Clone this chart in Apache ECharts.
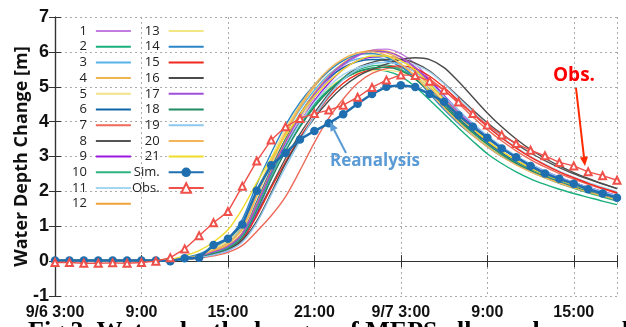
<!DOCTYPE html>
<html>
<head>
<meta charset="utf-8">
<script src="https://cdn.jsdelivr.net/npm/echarts@6/dist/echarts.min.js"></script>
<style>
  html, body { margin: 0; padding: 0; background: #fff; }
  #chart { width: 626px; height: 327px; }
</style>
</head>
<body>
<div id="chart"></div>
<script>
// x axis: hours from 9/6 3:00 (hourly values, index = hour)
const tickHours = [0, 6, 12, 18, 24, 30, 36];
const tickLabels = ["9/6 3:00", "9:00", "15:00", "21:00", "9/7 3:00", "9:00", "15:00"];

// ensemble members 1..21 (water depth change, m)
const m1  = [0.02,0.02,0.02,0.02,0.02,0.02,0.02,0.02,0.03,0.06,0.12,0.24,0.40,0.72,1.50,2.45,3.30,4.05,4.70,5.20,5.60,5.88,6.05,6.08,5.95,5.65,5.22,4.75,4.30,3.90,3.55,3.24,2.98,2.76,2.57,2.40,2.25,2.12,1.99,1.87];
const m2  = [0.02,0.02,0.02,0.02,0.02,0.02,0.02,0.02,0.03,0.06,0.12,0.24,0.40,0.75,1.60,2.50,3.30,3.98,4.50,4.92,5.22,5.42,5.50,5.45,5.30,5.00,4.62,4.22,3.82,3.44,3.08,2.80,2.56,2.36,2.20,2.06,1.94,1.83,1.72,1.62];
const m3  = [0.02,0.02,0.02,0.02,0.02,0.02,0.02,0.02,0.03,0.08,0.15,0.32,0.55,1.00,1.95,2.85,3.65,4.35,4.90,5.35,5.65,5.80,5.85,5.78,5.58,5.25,4.85,4.42,4.02,3.66,3.35,3.07,2.83,2.63,2.46,2.31,2.17,2.04,1.92,1.80];
const m4  = [0.02,0.02,0.02,0.02,0.02,0.02,0.02,0.02,0.03,0.08,0.15,0.30,0.50,0.90,1.85,2.80,3.65,4.40,5.00,5.45,5.78,5.97,6.03,5.97,5.78,5.45,5.00,4.55,4.12,3.75,3.42,3.13,2.88,2.67,2.49,2.33,2.19,2.06,1.94,1.82];
const m5  = [0.02,0.02,0.02,0.02,0.02,0.02,0.02,0.02,0.04,0.10,0.20,0.38,0.62,1.05,1.90,2.75,3.50,4.10,4.60,4.98,5.25,5.40,5.46,5.47,5.42,5.28,5.02,4.68,4.30,3.93,3.58,3.27,3.00,2.77,2.57,2.40,2.24,2.10,1.97,1.85];
const m6  = [0.02,0.02,0.02,0.02,0.02,0.02,0.02,0.02,0.03,0.07,0.13,0.26,0.43,0.80,1.70,2.65,3.50,4.22,4.80,5.25,5.55,5.72,5.78,5.74,5.58,5.30,4.92,4.50,4.10,3.73,3.40,3.11,2.86,2.65,2.47,2.31,2.17,2.04,1.92,1.80];
const m7  = [0.02,0.02,0.02,0.02,0.02,0.02,0.02,0.02,0.02,0.04,0.08,0.15,0.25,0.45,0.85,1.30,1.85,2.60,3.40,4.10,4.65,5.10,5.38,5.52,5.55,5.45,5.22,4.90,4.52,4.13,3.77,3.45,3.16,2.91,2.70,2.51,2.35,2.20,2.07,1.94];
const m8  = [0.02,0.02,0.02,0.02,0.02,0.02,0.02,0.02,0.02,0.05,0.10,0.20,0.35,0.65,1.35,2.15,2.95,3.65,4.25,4.80,5.25,5.55,5.70,5.78,5.78,5.68,5.45,5.10,4.72,4.33,3.97,3.65,3.36,3.10,2.88,2.68,2.50,2.35,2.21,2.08];
const m9  = [0.02,0.02,0.02,0.02,0.02,0.02,0.02,0.02,0.02,0.05,0.10,0.20,0.30,0.60,1.40,2.35,3.20,3.95,4.60,5.10,5.50,5.75,5.85,5.87,5.78,5.55,5.18,4.75,4.32,3.93,3.58,3.27,3.00,2.78,2.58,2.41,2.26,2.12,2.00,1.88];
const m10 = [0.02,0.02,0.02,0.02,0.02,0.02,0.02,0.02,0.03,0.06,0.12,0.24,0.38,0.70,1.50,2.40,3.20,3.90,4.45,4.90,5.25,5.48,5.60,5.62,5.50,5.25,4.88,4.47,4.06,3.68,3.34,3.04,2.78,2.57,2.39,2.23,2.09,1.96,1.84,1.72];
const m11 = [0.02,0.02,0.02,0.02,0.02,0.02,0.02,0.02,0.03,0.06,0.11,0.22,0.36,0.68,1.45,2.35,3.20,3.95,4.55,5.02,5.35,5.55,5.65,5.70,5.70,5.62,5.42,5.08,4.68,4.28,3.90,3.56,3.26,3.00,2.78,2.58,2.41,2.26,2.12,1.99];
const m12 = [0.02,0.02,0.02,0.02,0.02,0.02,0.02,0.02,0.03,0.07,0.14,0.27,0.45,0.80,1.65,2.60,3.45,4.20,4.82,5.30,5.68,5.92,6.04,6.02,5.85,5.55,5.12,4.65,4.20,3.80,3.45,3.15,2.90,2.68,2.50,2.34,2.20,2.07,1.95,1.83];
const m13 = [0.02,0.02,0.02,0.02,0.02,0.02,0.02,0.02,0.03,0.09,0.18,0.35,0.58,1.05,2.00,2.95,3.80,4.50,5.05,5.48,5.78,5.93,5.95,5.86,5.65,5.32,4.90,4.45,4.03,3.66,3.33,3.05,2.80,2.60,2.42,2.27,2.13,2.00,1.89,1.78];
const m14 = [0.02,0.02,0.02,0.02,0.02,0.02,0.02,0.02,0.04,0.10,0.20,0.40,0.65,1.20,2.20,3.10,3.90,4.55,5.05,5.45,5.75,5.92,5.95,5.85,5.60,5.25,4.80,4.35,3.95,3.60,3.28,3.00,2.78,2.58,2.42,2.28,2.14,2.00,1.88,1.76];
const m15 = [0.02,0.02,0.02,0.02,0.02,0.02,0.02,0.02,0.02,0.05,0.10,0.20,0.33,0.62,1.30,2.10,2.85,3.55,4.15,4.70,5.10,5.36,5.50,5.57,5.60,5.52,5.30,4.98,4.60,4.22,3.86,3.53,3.24,2.98,2.76,2.56,2.39,2.23,2.09,1.96];
const m16 = [0.02,0.02,0.02,0.02,0.02,0.02,0.02,0.02,0.02,0.05,0.10,0.20,0.33,0.60,1.15,1.95,2.80,3.50,4.10,4.60,5.00,5.30,5.50,5.65,5.78,5.83,5.78,5.55,5.15,4.70,4.25,3.85,3.50,3.20,2.95,2.73,2.54,2.37,2.22,2.08];
const m17 = [0.02,0.02,0.02,0.02,0.02,0.02,0.02,0.02,0.03,0.07,0.13,0.26,0.42,0.78,1.60,2.55,3.40,4.15,4.78,5.28,5.65,5.90,6.02,6.00,5.85,5.55,5.12,4.68,4.25,3.87,3.53,3.23,2.97,2.75,2.56,2.39,2.24,2.10,1.98,1.86];
const m18 = [0.02,0.02,0.02,0.02,0.02,0.02,0.02,0.02,0.02,0.05,0.10,0.22,0.36,0.68,1.45,2.35,3.15,3.85,4.42,4.88,5.22,5.43,5.54,5.56,5.46,5.22,4.86,4.45,4.05,3.68,3.35,3.06,2.81,2.60,2.42,2.26,2.12,1.99,1.87,1.76];
const m19 = [0.02,0.02,0.02,0.02,0.02,0.02,0.02,0.02,0.02,0.05,0.10,0.18,0.30,0.55,1.10,1.90,2.70,3.45,4.15,4.75,5.20,5.50,5.66,5.70,5.62,5.42,5.10,4.72,4.33,3.95,3.60,3.29,3.02,2.79,2.59,2.41,2.26,2.12,1.99,1.87];
const m20 = [0.02,0.02,0.02,0.02,0.02,0.02,0.02,0.02,0.03,0.08,0.16,0.32,0.52,0.95,1.90,2.85,3.70,4.45,5.05,5.50,5.80,5.97,6.00,5.90,5.65,5.30,4.85,4.40,3.98,3.60,3.28,3.00,2.76,2.56,2.39,2.24,2.10,1.98,1.87,1.76];
const m21 = [0.02,0.02,0.02,0.02,0.02,0.02,0.02,0.02,0.05,0.15,0.30,0.55,0.90,1.50,2.25,2.95,3.60,4.20,4.72,5.15,5.50,5.75,5.88,5.88,5.75,5.48,5.08,4.63,4.20,3.80,3.45,3.15,2.89,2.67,2.48,2.32,2.18,2.05,1.93,1.81];

// reanalysis simulation (Sim.) and observation (Obs.)
const simValues = [0.02,0.02,0.02,0.02,0.02,0.02,0.02,0.02,0.00,0.08,0.10,0.46,0.64,1.05,2.02,2.75,3.10,3.49,3.73,3.95,4.21,4.51,4.79,5.00,5.04,4.99,4.79,4.57,4.18,3.85,3.54,3.23,2.98,2.73,2.51,2.36,2.22,2.06,1.94,1.82];
const obsValues = [-0.04,-0.04,-0.06,-0.06,-0.05,-0.06,-0.04,0.00,0.10,0.35,0.73,1.10,1.42,2.15,2.87,3.47,3.85,4.09,4.23,4.33,4.47,4.70,4.98,5.19,5.34,5.32,5.16,4.90,4.56,4.23,3.90,3.62,3.37,3.18,3.02,2.83,2.73,2.56,2.45,2.32];

const members = [m1, m2, m3, m4, m5, m6, m7, m8, m9, m10, m11, m12, m13, m14, m15, m16, m17, m18, m19, m20, m21];
const memberNames = members.map((_, i) => String(i + 1));
const memberColors = [
  "#c27ce0", "#1aaf7f", "#56b4e9", "#f0b450", "#f2e38a", "#0f67a8", "#ee6a5a",
  "#555555", "#9b19e0", "#2eb37f", "#a6d6f2", "#f0a23a", "#f3e685", "#2b86c8",
  "#f0281e", "#4a4a4a", "#a04fd8", "#1f8c64", "#8ec8ee", "#f2b55a", "#eedb2a"
];
const simColor = "#1f6fb0";
const obsColor = "#f0504a";

const chart = echarts.init(document.getElementById("chart"), null, { renderer: "canvas" });

const toPairs = (vals) => vals.map((v, h) => [h, v]);

const series = members.map((vals, i) => ({
  name: memberNames[i],
  type: "line",
  data: toPairs(vals),
  symbol: "none",
  smooth: 0.3,
  lineStyle: { width: 1.4, color: memberColors[i] },
  itemStyle: { color: memberColors[i] },
  z: 2
}));

series.push({
  name: "Sim.",
  type: "line",
  data: toPairs(simValues),
  symbol: "circle",
  symbolSize: 8.5,
  lineStyle: { width: 2.5, color: simColor },
  itemStyle: { color: simColor },
  z: 5
});
series.push({
  name: "Obs.",
  type: "line",
  data: toPairs(obsValues),
  symbol: "emptyTriangle",
  symbolSize: 7,
  lineStyle: { width: 1.4, color: obsColor },
  itemStyle: { color: obsColor, borderColor: obsColor, borderWidth: 1.2 },
  z: 6
});

// small helper: arrow drawn as line + head
function arrow(x1, y1, x2, y2, color, width, head) {
  const ang = Math.atan2(y2 - y1, x2 - x1);
  const bx = x2 - head * Math.cos(ang), by = y2 - head * Math.sin(ang);
  const w = head * 0.45;
  const px = -Math.sin(ang) * w, py = Math.cos(ang) * w;
  return [
    { type: "line", shape: { x1: x1, y1: y1, x2: bx, y2: by }, style: { stroke: color, lineWidth: width }, z: 20 },
    { type: "polygon", shape: { points: [[x2, y2], [bx + px, by + py], [bx - px, by - py]] }, style: { fill: color }, z: 20 }
  ];
}

// legend entries: member lines show no marker
const legendItem = (name) => memberNames.includes(name)
  ? { name: name, itemStyle: { opacity: 0 } }
  : { name: name };

const legendCommon = {
  orient: "vertical",
  align: "right",
  top: 24,
  padding: 0,
  itemWidth: 35,
  itemHeight: 12,
  itemGap: 1.7,
  textStyle: { fontFamily: "Open Sans", fontSize: 13, color: "#222", lineHeight: 14, padding: [0, 4, 0, 0] },
  inactiveColor: "#ccc"
};

chart.setOption({
  animation: false,
  backgroundColor: "#fff",
  grid: { left: 55, right: 9, top: 17, bottom: 31 },
  legend: [
    Object.assign({}, legendCommon, { left: 72, data: memberNames.slice(0, 12).map(legendItem) }),
    Object.assign({}, legendCommon, { left: 132, data: memberNames.slice(12).concat(["Sim.", "Obs."]).map(legendItem) })
  ],
  xAxis: [{
    type: "value",
    min: 0, max: 39, interval: 6,
    axisLine: { show: true, lineStyle: { color: "#333", width: 1.2 } },
    axisTick: { show: true, inside: true, length: 6, lineStyle: { color: "#333" } },
    axisLabel: {
      margin: 9,
      fontFamily: "Liberation Sans", fontWeight: "bold", fontSize: 16, color: "#111",
      formatter: (v) => { const k = tickHours.indexOf(v); return k >= 0 ? tickLabels[k] : ""; }
    },
    splitLine: { show: true, lineStyle: { color: "#aaa", type: [2, 3], width: 1 } }
  }, {
    type: "value", position: "top",
    min: 0, max: 39, interval: 6,
    axisLine: { show: true, lineStyle: { color: "#333", width: 1.2 } },
    axisTick: { show: true, inside: true, length: 6, lineStyle: { color: "#333" } },
    axisLabel: { show: false },
    splitLine: { show: false }
  }],
  yAxis: [{
    type: "value",
    min: -1, max: 7, interval: 1,
    name: "Water Depth Change [m]",
    nameLocation: "middle",
    nameGap: 24,
    nameMoveOverlap: false,
    nameTextStyle: { fontFamily: "Open Sans", fontWeight: "bold", fontSize: 18, color: "#111" },
    axisLine: { show: true, lineStyle: { color: "#333", width: 1.2 } },
    axisTick: { show: true, inside: true, length: 6, lineStyle: { color: "#333" } },
    axisLabel: { margin: 6, fontFamily: "Liberation Sans", fontWeight: "bold", fontSize: 18, color: "#111" },
    splitLine: { show: true, lineStyle: { color: "#aaa", type: [2, 3], width: 1 } }
  }, {
    type: "value", position: "right",
    min: -1, max: 7, interval: 1,
    axisLine: { show: true, lineStyle: { color: "#333", width: 1.2 } },
    axisTick: { show: true, inside: true, length: 6, lineStyle: { color: "#333" } },
    axisLabel: { show: false },
    splitLine: { show: false }
  }],
  series: series,
  graphic: [
    { type: "text", left: 553, top: 66, style: { text: "Obs.", fill: "#ff0000", font: "bold 19px 'Open Sans'" }, z: 20 },
    { type: "text", left: 330, top: 153, style: { text: "Reanalysis", fill: "#5b9bd5", font: "bold 17px 'Open Sans'" }, z: 20 },
    ...arrow(576, 88, 585, 166, "#ff2a00", 2, 9),
    ...arrow(346, 153, 330, 122, "#5b9bd5", 2, 9),
    { type: "text", left: 28, top: 319, style: { text: "Fig.3  Water depth changes of MEPS all members and", fill: "#000", font: "bold 26px 'Liberation Serif'" }, z: 20 }
  ]
});
</script>
</body>
</html>
